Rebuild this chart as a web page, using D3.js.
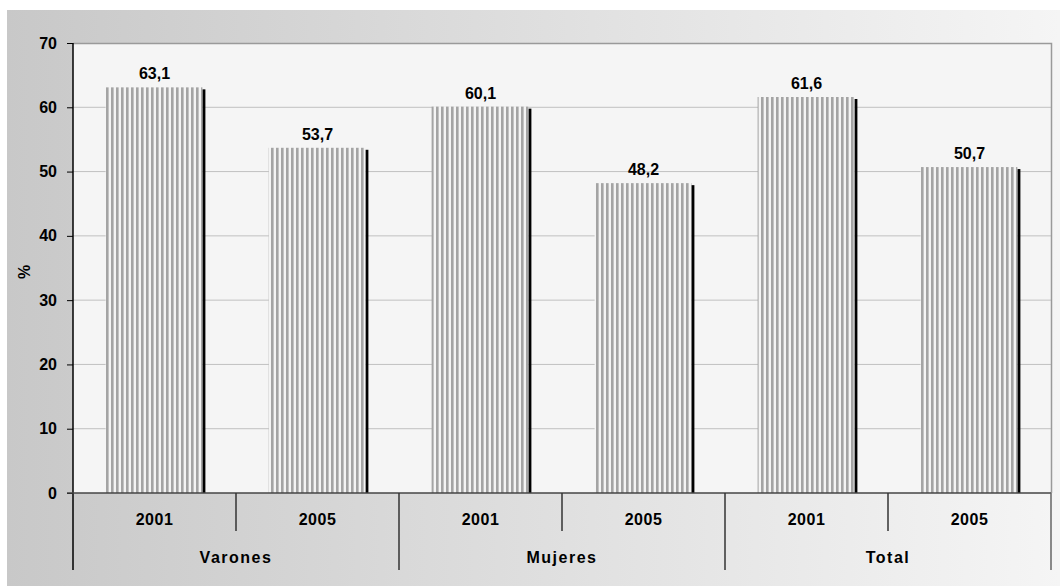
<!DOCTYPE html>
<html lang="es">
<meta charset="UTF-8">
<title>2001 - 2005</title>
<script src="https://d3js.org/d3.v7.min.js"></script>
<style>
  body { margin: 0; background: #fff; }
  svg { display: block; font-family: "Liberation Sans", Arial, sans-serif; }
  .lbl { font-weight: bold; fill: #000; }
</style>
<body>
<svg id="chart" width="1060" height="586"></svg>
<script>
// data
var groups = ["Varones", "Mujeres", "Total"];
var years = ["2001", "2005"];
var values2001 = [63.1, 60.1, 61.6];
var values2005 = [53.7, 48.2, 50.7];
var yTicks = [0, 10, 20, 30, 40, 50, 60, 70];

var rows = [];
groups.forEach((g, i) => {
  rows.push({ group: g, year: "2001", value: values2001[i] });
  rows.push({ group: g, year: "2005", value: values2005[i] });
});

var es = d3.formatLocale({ decimal: ",", thousands: ".", grouping: [3], currency: ["", ""] });
var fmt = es.format(".1f");

var svg = d3.select("#chart");
var plotL = 73, plotR = 1051, plotT = 43, plotB = 493;

// background gradient
var defs = svg.append("defs");
var grad = defs.append("linearGradient").attr("id", "bg").attr("x1", 0).attr("x2", 1).attr("y1", 0).attr("y2", 0);
grad.append("stop").attr("offset", "0%").attr("stop-color", "#c8c8c8");
grad.append("stop").attr("offset", "100%").attr("stop-color", "#f5f5f5");

var pat = defs.append("pattern").attr("id", "stripes")
  .attr("patternUnits", "userSpaceOnUse").attr("width", 5).attr("height", 10)
  .attr("x", 106);
pat.append("rect").attr("width", 5).attr("height", 10).attr("fill", "#f4f4f4");
pat.append("rect").attr("width", 2.6).attr("height", 10).attr("fill", "#a4a4a4");

svg.append("rect").attr("x", 7).attr("y", 10).attr("width", 1053).attr("height", 576).attr("fill", "url(#bg)");

// plot area
svg.append("rect").attr("x", plotL).attr("y", plotT).attr("width", plotR - plotL).attr("height", plotB - plotT)
  .attr("fill", "#f5f5f5");

var x0 = d3.scaleBand().domain(groups).range([plotL, plotR]);
var x1 = d3.scaleBand().domain(years).range([0, x0.bandwidth()]).paddingInner(0.4).paddingOuter(0.2);
var y = d3.scaleLinear().domain([0, 70]).range([plotB, plotT]);

// gridlines
svg.append("g").selectAll("line").data(yTicks.filter(d => d > 0 && d < 70)).join("line")
  .attr("x1", plotL).attr("x2", plotR)
  .attr("y1", d => y(d)).attr("y2", d => y(d))
  .attr("stroke", "#c0c0c0").attr("stroke-width", 1);

// plot border top/right
svg.append("path").attr("d", `M${plotL},${plotT + 0.5}H${plotR + 0.5}V${plotB}`)
  .attr("fill", "none").attr("stroke", "#9a9a9a").attr("stroke-width", 1.5);

// bars
var bars = svg.append("g").selectAll("g").data(rows).join("g");
bars.append("rect")
  .attr("x", d => x0(d.group) + x1(d.year) + x1.bandwidth() - 1)
  .attr("y", d => y(d.value) + 2)
  .attr("width", 3)
  .attr("height", d => plotB - y(d.value) - 2)
  .attr("fill", "#000");
bars.append("rect")
  .attr("x", d => x0(d.group) + x1(d.year))
  .attr("y", d => y(d.value))
  .attr("width", x1.bandwidth() - 1)
  .attr("height", d => plotB - y(d.value))
  .attr("fill", "url(#stripes)");
bars.append("text").attr("class", "lbl")
  .attr("x", d => x0(d.group) + x1(d.year) + x1.bandwidth() / 2)
  .attr("y", d => y(d.value) - 8)
  .attr("text-anchor", "middle")
  .attr("font-size", 16)
  .text(d => fmt(d.value));

// y axis
var yAxis = d3.axisLeft(y).tickValues(yTicks).tickSize(6).tickPadding(10).tickFormat(d3.format("d"));
var ya = svg.append("g").attr("transform", `translate(${plotL},0)`).call(yAxis);
ya.select(".domain").remove();
ya.selectAll(".tick line").attr("stroke", "#000");
ya.selectAll(".tick text").attr("class", "lbl").attr("font-size", 16).attr("font-family", null);

svg.append("line").attr("x1", plotL).attr("x2", plotL).attr("y1", plotT).attr("y2", 570)
  .attr("stroke", "#000").attr("stroke-width", 1.5);
svg.append("line").attr("x1", plotL - 6).attr("x2", plotR).attr("y1", plotB).attr("y2", plotB)
  .attr("stroke", "#444").attr("stroke-width", 1.5);

svg.append("text").attr("class", "lbl").attr("font-size", 16)
  .attr("transform", "translate(30,272) rotate(-90)")
  .attr("text-anchor", "middle").text("%");

// category axis: years
var cats = svg.append("g");
rows.forEach(d => {
  var cx = x0(d.group) + x1(d.year) + x1.step() / 2 - x1.step() * 0.2 + x1.bandwidth() * 0.0;
  cx = x0(d.group) + x0.bandwidth() * (d.year === years[0] ? 0.25 : 0.75);
  cats.append("text").attr("class", "lbl").attr("font-size", 16).attr("letter-spacing", 0.5)
    .attr("x", cx).attr("y", 525).attr("text-anchor", "middle").text(d.year);
});
groups.forEach(g => {
  cats.append("line").attr("x1", x0(g) + x0.bandwidth() / 2).attr("x2", x0(g) + x0.bandwidth() / 2)
    .attr("y1", plotB).attr("y2", 531).attr("stroke", "#333").attr("stroke-width", 1.5);
  cats.append("text").attr("class", "lbl").attr("font-size", 16).attr("letter-spacing", 1.5)
    .attr("x", x0(g) + x0.bandwidth() / 2).attr("y", 563).attr("text-anchor", "middle").text(g);
});
groups.slice(1).forEach(g => {
  cats.append("line").attr("x1", x0(g)).attr("x2", x0(g))
    .attr("y1", plotB).attr("y2", 570).attr("stroke", "#333").attr("stroke-width", 1.5);
});
cats.append("line").attr("x1", plotR).attr("x2", plotR).attr("y1", plotB).attr("y2", 570)
  .attr("stroke", "#666").attr("stroke-width", 1.5);
</script>
</body>
</html>
